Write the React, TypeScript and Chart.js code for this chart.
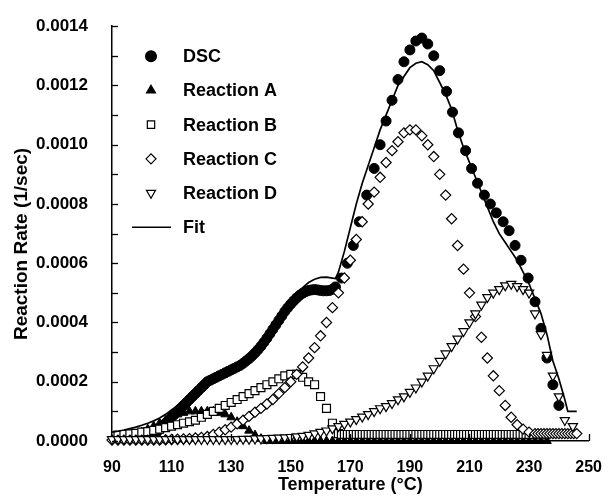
import React, { useEffect, useRef } from 'react';
import { Chart, registerables } from 'chart.js';
import { drawPoint } from 'chart.js/helpers';

Chart.register(...registerables);

const FONT = '"Liberation Sans", Arial, Helvetica, sans-serif';

// ---- data: [temperature °C, reaction rate 1/sec] ----
const dsc: [number, number][] = [
  [104, 0.00002], [105, 0.00003], [106, 0.00004], [107, 0.00005], [108, 0.00006], [109, 0.00007],
  [110, 0.00008], [111, 0.00009], [112, 0.0001], [113, 0.00011], [114, 0.00012], [115, 0.00013],
  [116, 0.00014], [117, 0.00015], [118, 0.00016], [119, 0.00017], [120, 0.00018], [121, 0.00019],
  [122, 0.0002], [123, 0.000205], [124, 0.00021], [125, 0.000215], [126, 0.00022], [127, 0.000225],
  [128, 0.00023], [129, 0.000235], [130, 0.00024], [131, 0.000245], [132, 0.00025], [133, 0.000255],
  [134, 0.000262], [135, 0.00027], [136, 0.000278], [137, 0.000287], [138, 0.000297], [139, 0.000308],
  [140, 0.00032], [141, 0.000333], [142, 0.000347], [143, 0.000362], [144, 0.000377], [145, 0.000392],
  [146, 0.000407], [147, 0.000422], [148, 0.000437], [149, 0.00045], [150, 0.000462], [151, 0.000473],
  [152, 0.000483], [153, 0.000492], [154, 0.000499], [155, 0.000504], [156, 0.000508], [157, 0.00051],
  [158, 0.000511], [159, 0.00051], [160, 0.000508], [161, 0.000507], [162, 0.000507], [163, 0.000508],
  [164, 0.000512], [165, 0.00052], [167, 0.00055], [169, 0.0006], [171, 0.00066], [173, 0.00074],
  [175.5, 0.00083], [178, 0.00092], [180, 0.001], [182, 0.00108], [184, 0.00115], [186, 0.00122],
  [188, 0.00128], [190, 0.00132], [192, 0.00135], [194, 0.00136], [196, 0.00134], [198, 0.0013],
  [200, 0.00125], [202.3, 0.00118], [204.3, 0.00111], [206.3, 0.00104], [208.7, 0.00098], [210.7, 0.00092],
  [212.7, 0.00087], [215, 0.00083], [217, 0.0008], [219, 0.00077], [221.3, 0.00074], [223.3, 0.00071],
  [225.3, 0.00066], [227.3, 0.00061], [229.7, 0.00055], [232, 0.00047], [234, 0.00038], [236, 0.00028],
  [238, 0.00019], [240, 0.00012],
];

const reactionA: [number, number][] = [
  [96, 0.00001], [98, 0.00002], [100, 0.00003], [102, 0.00004], [104, 0.00005], [106, 0.00006],
  [108, 0.00007], [110, 0.00008], [112, 0.00009], [114, 0.000095], [116, 0.0001], [118, 0.0001],
  [120, 0.0001], [122, 0.0001], [124, 0.0001], [126, 0.000095], [128, 0.00009], [130, 0.00008],
  [132, 0.000065], [134, 0.00005], [136, 0.000035], [138, 0.00002], [140, 0.000008], [142, 0],
  [144, 0], [146, 0], [148, 0], [150, 0], [152, 0], [154, 0], [156, 0], [158, 0], [160, 0],
  [162, 0], [164, 0], [166, 0], [168, 0], [170, 0], [172, 0], [174, 0], [176, 0], [178, 0],
  [180, 0], [182, 0], [184, 0], [186, 0], [188, 0], [190, 0], [192, 0], [194, 0], [196, 0],
  [198, 0], [200, 0], [202, 0], [204, 0], [206, 0], [208, 0], [210, 0], [212, 0], [214, 0],
  [216, 0], [218, 0], [220, 0], [222, 0], [224, 0], [226, 0], [228, 0], [230, 0], [232, 0],
  [234, 0], [236, 0],
];

const reactionB: [number, number][] = [
  [92, 0.00002], [94, 0.000022], [96, 0.000024], [98, 0.000026], [100, 0.00003], [102, 0.000032],
  [104, 0.000036], [106, 0.00004], [108, 0.000045], [110, 0.00005], [112, 0.000055], [114, 0.00006],
  [116, 0.000065], [118, 0.00007], [120, 0.00008], [122, 0.00009], [124, 0.0001], [126, 0.00011],
  [128, 0.00012], [130, 0.00013], [132, 0.00014], [134, 0.00015], [136, 0.00016], [138, 0.00017],
  [140, 0.00018], [142, 0.00019], [144, 0.0002], [146, 0.00021], [148, 0.00022], [150, 0.000225],
  [152, 0.000225], [154, 0.000215], [156, 0.0002], [158, 0.00019], [160, 0.00015], [162, 0.00011],
  [164, 0.00006], [166, 0.000025], [167, 0.000022], [168, 0.000022], [169, 0.000022], [170, 0.000022],
  [171, 0.000022], [172, 0.000022], [173, 0.000022], [174, 0.000022], [175, 0.000022], [176, 0.000022],
  [177, 0.000022], [178, 0.000022], [179, 0.000022], [180, 0.000022], [181, 0.000022], [182, 0.000022],
  [183, 0.000022], [184, 0.000022], [185, 0.000022], [186, 0.000022], [187, 0.000022], [188, 0.000022],
  [189, 0.000022], [190, 0.000022], [191, 0.000022], [192, 0.000022], [193, 0.000022], [194, 0.000022],
  [195, 0.000022], [196, 0.000022], [197, 0.000022], [198, 0.000022], [199, 0.000022], [200, 0.000022],
  [201, 0.000022], [202, 0.000022], [203, 0.000022], [204, 0.000022], [205, 0.000022], [206, 0.000022],
  [207, 0.000022], [208, 0.000022], [209, 0.000022], [210, 0.000022], [211, 0.000022], [212, 0.000022],
  [213, 0.000022], [214, 0.000022], [215, 0.000022], [216, 0.000022], [217, 0.000022], [218, 0.000022],
  [219, 0.000022], [220, 0.000022], [221, 0.000022], [222, 0.000022], [223, 0.000022], [224, 0.000022],
  [225, 0.000022], [226, 0.000022], [227, 0.000022], [228, 0.000022], [229, 0.000022], [230, 0.000022],
];

const reactionC: [number, number][] = [
  [90, 0.000003], [92, 0.000003], [94, 0.000003], [96, 0.000003], [98, 0.000003], [100, 0.000003],
  [102, 0.000003], [104, 0.000003], [106, 0.000003], [108, 0.000004], [110, 0.000005], [112, 0.000006],
  [114, 0.000007], [116, 0.000008], [118, 0.00001], [120, 0.000012], [122, 0.000015], [124, 0.000022],
  [126, 0.00003], [128, 0.000038], [130, 0.000047], [132, 0.000058], [134, 0.00007], [136, 0.000083],
  [138, 0.000097], [140, 0.00011], [142, 0.000125], [144, 0.00014], [146, 0.00016], [148, 0.00018],
  [150, 0.0002], [152, 0.000225], [154, 0.00025], [156, 0.00028], [158, 0.000315], [160, 0.000355],
  [162, 0.0004], [164, 0.00045], [166, 0.0005], [168, 0.00055], [170, 0.00061], [172, 0.00068],
  [174, 0.00074], [176, 0.0008], [178, 0.00084], [180, 0.00089], [182, 0.00094], [184, 0.00098],
  [186, 0.00101], [188, 0.00104], [190, 0.00105], [192, 0.00105], [194, 0.00103], [196, 0.001],
  [198, 0.00096], [200, 0.0009], [202, 0.00083], [204, 0.00075], [206, 0.00066], [208, 0.00058],
  [210, 0.0005], [212, 0.00042], [214, 0.00035], [216, 0.00028], [218, 0.00022], [220, 0.00017],
  [222, 0.00012], [224, 0.00008], [226, 0.000055], [228, 0.00004], [230, 0.00003], [232, 0.000025],
  [233, 0.000025], [234, 0.000025], [235, 0.000025], [236, 0.000025], [237, 0.000025], [238, 0.000025],
  [239, 0.000025], [240, 0.000025], [241, 0.000025], [242, 0.000025], [243, 0.000025], [244, 0.000025],
  [245, 0.000025], [246, 0.000025],
];

const reactionD: [number, number][] = [
  [90, 0.000006], [92, 0.000006], [94, 0.000006], [96, 0.000006], [98, 0.000006], [100, 0.000006],
  [102, 0.000006], [104, 0.000006], [106, 0.000006], [108, 0.000006], [110, 0.000006], [112, 0.000006],
  [114, 0.000006], [116, 0.000006], [118, 0.000006], [120, 0.000006], [122, 0.000006], [124, 0.000006],
  [126, 0.000006], [128, 0.000006], [130, 0.000006], [132, 0.000006], [134, 0.000007], [136, 0.000007],
  [138, 0.000008], [140, 0.000008], [142, 0.000009], [144, 0.00001], [146, 0.000011], [148, 0.000012],
  [150, 0.000013], [152, 0.000015], [154, 0.000017], [156, 0.00002], [158, 0.000025], [160, 0.00003],
  [162, 0.000035], [164, 0.000042], [166, 0.00005], [168, 0.000057], [170, 0.000065], [172, 0.000073],
  [174, 0.000082], [176, 0.00009], [178, 0.0001], [180, 0.00011], [182, 0.000117], [184, 0.000127],
  [186, 0.00014], [188, 0.00015], [190, 0.000165], [192, 0.00018], [194, 0.0002], [196, 0.00022],
  [198, 0.000245], [200, 0.00027], [202, 0.000295], [204, 0.00032], [206, 0.000345], [208, 0.00037],
  [210, 0.0004], [212, 0.00043], [214, 0.00046], [216, 0.000485], [218, 0.0005], [220, 0.000512],
  [222, 0.000525], [224, 0.00053], [226, 0.000522], [228, 0.000512], [230, 0.0005], [232, 0.00043],
  [234, 0.00036], [236, 0.00029], [238, 0.00022], [240, 0.00015], [242, 0.00007], [244.7, 0.00005],
];

const fit: [number, number][] = [
  [90, 0.00003], [92, 0.000033], [94, 0.000037], [96, 0.000042], [98, 0.000047], [100, 0.000053],
  [102, 0.00006], [104, 0.000068], [106, 0.000078], [108, 0.00009], [110, 0.000105], [112, 0.00012],
  [114, 0.000138], [116, 0.000155], [118, 0.00017], [120, 0.000185], [122, 0.0002], [124, 0.000212],
  [126, 0.000223], [128, 0.000233], [130, 0.000242], [132, 0.000251], [134, 0.000262], [136, 0.000277],
  [138, 0.000296], [140, 0.00032], [142, 0.000347], [144, 0.000377], [146, 0.000407], [148, 0.000437],
  [150, 0.000467], [152, 0.000495], [154, 0.000518], [156, 0.000535], [158, 0.000546], [160, 0.000552],
  [162, 0.000553], [164, 0.00055], [165, 0.000548], [166, 0.00057], [168, 0.00064], [170, 0.00072],
  [172, 0.0008], [174, 0.00087], [176, 0.00093], [178, 0.00099], [180, 0.00105], [182, 0.0011],
  [184, 0.00115], [186, 0.0012], [188, 0.00123], [190, 0.00126], [192, 0.001275], [194, 0.00128],
  [196, 0.00127], [198, 0.00125], [200, 0.00121], [202, 0.00117], [204, 0.00112], [206, 0.00105],
  [208, 0.00099], [210, 0.00094], [212, 0.00089], [214, 0.00084], [216, 0.00079], [218, 0.00074],
  [220, 0.0007], [222, 0.00067], [224, 0.00064], [226, 0.00061], [228, 0.00057], [230, 0.00053],
  [232, 0.00048], [234, 0.00043], [236, 0.00036], [238, 0.00027], [240, 0.00021], [242, 0.00014],
  [243, 0.0001], [246, 0.0001],
];

const xTickValues = [90, 110, 130, 150, 170, 190, 210, 230, 250];
const yTickValues = [0, 0.0002, 0.0004, 0.0006, 0.0008, 0.001, 0.0012, 0.0014];
const yMinorValues = [0.0001, 0.0003, 0.0005, 0.0007, 0.0009, 0.0011, 0.0013];
const legendLabels = ['DSC', 'Reaction A', 'Reaction B', 'Reaction C', 'Reaction D', 'Fit'];
const xTitle = 'Temperature (°C)';
const yTitle = 'Reaction Rate (1/sec)';

const toXY = (arr: [number, number][]) => arr.map(([x, y]) => ({ x, y }));

const decorPlugin = {
  id: 'decor',
  afterDraw(chart: any) {
    const { ctx, chartArea, scales } = chart;
    const xs = scales.x;
    const ys = scales.y;
    ctx.save();
    ctx.strokeStyle = '#000';
    ctx.lineWidth = 1.3;
    // inward tick marks on y axis
    [...yTickValues, ...yMinorValues].forEach((v) => {
      const py = Math.round(ys.getPixelForValue(v)) + 0.5;
      ctx.beginPath();
      ctx.moveTo(chartArea.left, py);
      ctx.lineTo(chartArea.left + 6, py);
      ctx.stroke();
    });
    // inward tick marks on x axis
    xTickValues.slice(1).forEach((v) => {
      const px = Math.round(xs.getPixelForValue(v)) + 0.5;
      ctx.beginPath();
      ctx.moveTo(px, chartArea.bottom);
      ctx.lineTo(px, chartArea.bottom - 7);
      ctx.stroke();
    });
    // y axis title
    ctx.fillStyle = '#000';
    ctx.font = `bold 19px ${FONT}`;
    ctx.textAlign = 'center';
    ctx.textBaseline = 'middle';
    ctx.save();
    ctx.translate(22, 244);
    ctx.rotate(-Math.PI / 2);
    ctx.fillText(yTitle, 0, 0);
    ctx.restore();
    // legend inside plot area
    const mx = chartArea.left + 39;
    const tx = chartArea.left + 71;
    chart.data.datasets.forEach((ds: any, i: number) => {
      const cy = chartArea.top + 30 + i * 34.2;
      ctx.lineWidth = 1.2;
      if (ds.showLine) {
        ctx.lineWidth = 1.6;
        ctx.beginPath();
        ctx.moveTo(mx - 19, cy);
        ctx.lineTo(mx + 20, cy);
        ctx.stroke();
      } else {
        ctx.fillStyle = ds.pointBackgroundColor;
        ctx.strokeStyle = '#000';
        drawPoint(ctx, {
          pointStyle: ds.pointStyle,
          rotation: ds.pointRotation || 0,
          radius: ds.legendRadius,
          borderWidth: 1.2,
        }, mx, cy);
      }
      ctx.fillStyle = '#000';
      ctx.font = `bold 18px ${FONT}`;
      ctx.textAlign = 'left';
      ctx.textBaseline = 'middle';
      ctx.fillText(legendLabels[i], tx, cy + 1);
    });
    ctx.restore();
  },
};

export default function App() {
  const ref = useRef<HTMLCanvasElement | null>(null);
  useEffect(() => {
    document.body.style.margin = '0';
    const canvas = ref.current;
    if (!canvas) return;
    const common = { showLine: false, borderColor: '#000', pointBorderColor: '#000', clip: false };
    const chart = new Chart(canvas, {
      type: 'scatter',
      data: {
        datasets: [
          {
            ...common, label: legendLabels[0], data: toXY(dsc), order: 5,
            pointStyle: 'circle', pointRadius: 5, pointBackgroundColor: '#000', pointBorderWidth: 1,
            legendRadius: 5.4,
          } as any,
          {
            ...common, label: legendLabels[1], data: toXY(reactionA), order: 4,
            pointStyle: 'triangle', pointRadius: 5, pointBackgroundColor: '#000', pointBorderWidth: 1,
            legendRadius: 5.2,
          } as any,
          {
            ...common, label: legendLabels[2], data: toXY(reactionB), order: 3,
            pointStyle: 'rect', pointRadius: 5.6, pointBackgroundColor: '#fff', pointBorderWidth: 1.2,
            legendRadius: 5.2,
          } as any,
          {
            ...common, label: legendLabels[3], data: toXY(reactionC), order: 2,
            pointStyle: 'rectRot', pointRadius: 5.1, pointBackgroundColor: '#fff', pointBorderWidth: 1.2,
            legendRadius: 5,
          } as any,
          {
            ...common, label: legendLabels[4], data: toXY(reactionD), order: 1,
            pointStyle: 'triangle', pointRotation: 180, pointRadius: 5.3, pointBackgroundColor: '#fff',
            pointBorderWidth: 1.2, legendRadius: 5.2,
          } as any,
          {
            label: legendLabels[5], data: toXY(fit), order: 0, showLine: true, borderColor: '#000',
            borderWidth: 1.7, pointRadius: 0, tension: 0, fill: false, clip: false,
          } as any,
        ],
      },
      options: {
        animation: false,
        responsive: false,
        maintainAspectRatio: false,
        devicePixelRatio: 1,
        layout: { padding: { top: 21, right: 18, left: 0, bottom: 0 } },
        plugins: {
          legend: { display: false },
          tooltip: { enabled: false },
        },
        scales: {
          x: {
            type: 'linear',
            min: 90,
            max: 250,
            afterBuildTicks: (s: any) => { s.ticks = xTickValues.map((v) => ({ value: v })); },
            afterFit: (s: any) => { s.height = 59; },
            grid: { display: false },
            border: { display: true, color: '#000', width: 1.5 },
            ticks: { color: '#000', font: { family: FONT, size: 16, weight: 'bold' }, padding: 9, maxRotation: 0 },
            title: {
              display: true, text: xTitle, color: '#000',
              font: { family: FONT, size: 18, weight: 'bold' }, padding: { top: 0, bottom: 4 },
            },
          },
          y: {
            type: 'linear',
            min: 0,
            max: 0.0014,
            afterBuildTicks: (s: any) => { s.ticks = yTickValues.map((v) => ({ value: v })); },
            afterFit: (s: any) => { s.width = 112; },
            grid: { display: false },
            border: { display: true, color: '#000', width: 1.5 },
            ticks: {
              color: '#000', font: { family: FONT, size: 17, weight: 'bold' }, padding: 16,
              callback: (v: any) => Number(v).toFixed(4),
            },
          },
        },
      } as any,
      plugins: [decorPlugin],
    });
    return () => chart.destroy();
  }, []);
  return <canvas ref={ref} width={611} height={500} style={{ display: 'block', width: 611, height: 500 }} />;
}
